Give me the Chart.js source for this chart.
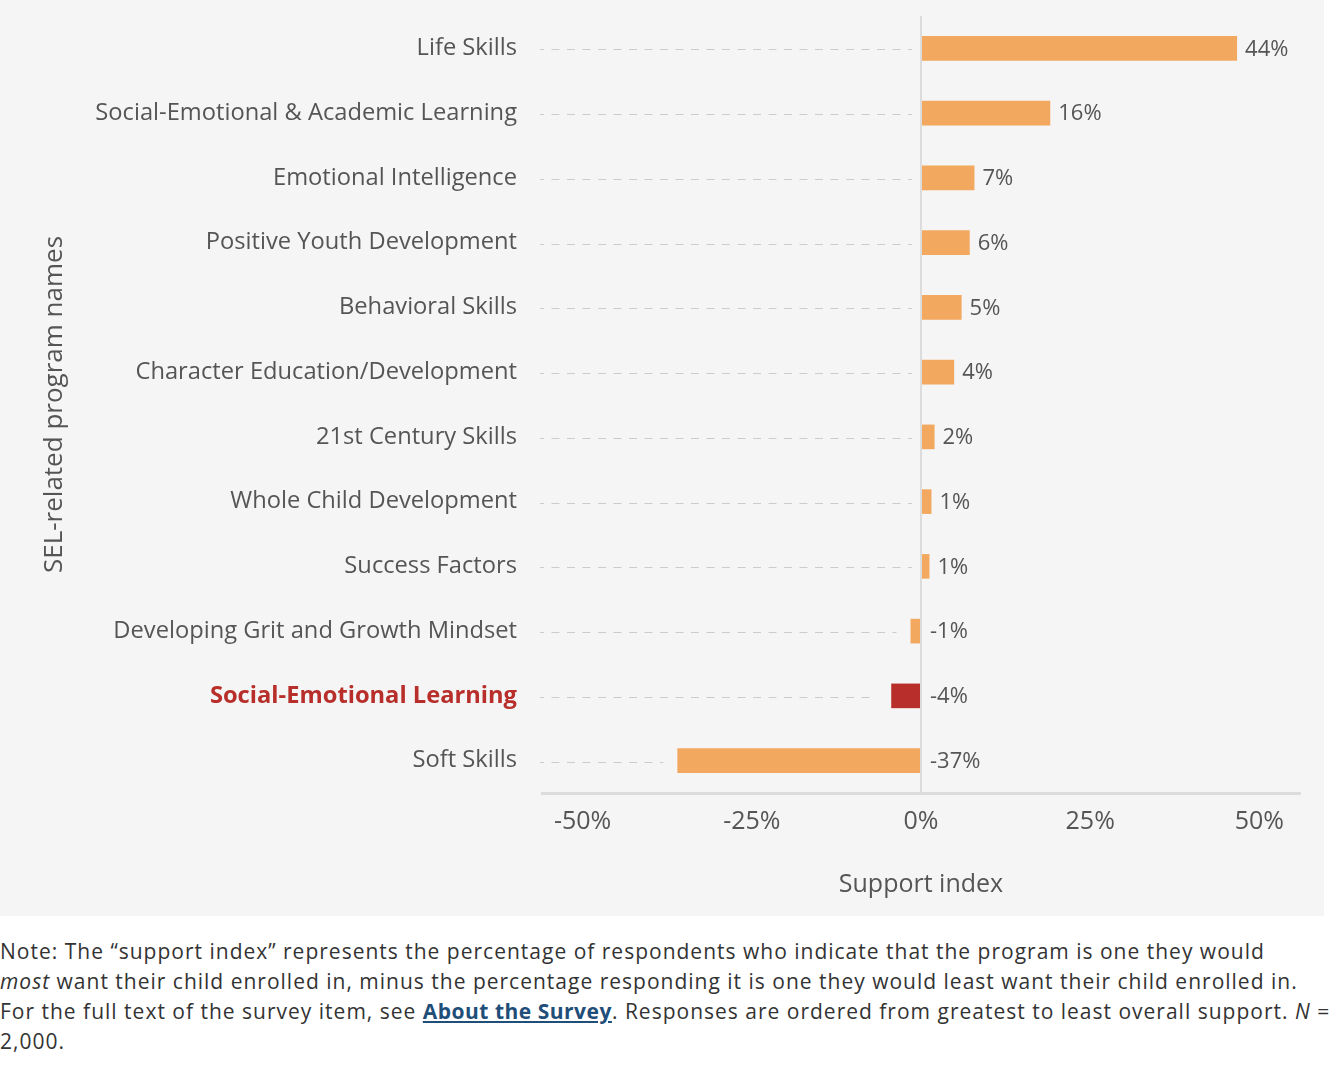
<!DOCTYPE html>
<html><head><meta charset="utf-8">
<script src="https://cdn.jsdelivr.net/npm/chart.js@4.4.1/dist/chart.umd.min.js"></script>
<style>
html,body{margin:0;padding:0;background:#fff;}
#wrap{position:absolute;left:0;top:0;width:1324px;height:916px;background:#f5f5f5;}
#note{position:absolute;left:0;top:936px;width:1332px;font-family:'Open Sans',sans-serif;font-size:21px;letter-spacing:1px;line-height:30px;color:#333;white-space:nowrap;}
#note a{color:#1f4e79;font-weight:bold;text-decoration:underline;letter-spacing:0.5px;}
</style></head><body>
<div id="wrap"><canvas id="c" width="1324" height="916"></canvas></div>
<div id="note">Note: The “support index” represents the percentage of respondents who indicate that the program is one they would<br><i>most</i> want their child enrolled in, minus the percentage responding it is one they would least want their child enrolled in.<br>For the full text of the survey item, see <a>About the Survey</a>. Responses are ordered from greatest to least overall support. <i>N</i> =<br>2,000.</div>
<script>
const categories = ['Life Skills','Social-Emotional & Academic Learning','Emotional Intelligence','Positive Youth Development','Behavioral Skills','Character Education/Development','21st Century Skills','Whole Child Development','Success Factors','Developing Grit and Growth Mindset','Social-Emotional Learning','Soft Skills'];
const values = [46.7, 19.1, 7.9, 7.2, 6.0, 4.9, 2.0, 1.55, 1.25, -1.55, -4.4, -36.0];
const valueLabels = ['44%','16%','7%','6%','5%','4%','2%','1%','1%','-1%','-4%','-37%'];
const highlightCategory = 'Social-Emotional Learning';
const xTickValues = [-50, -25, 0, 25, 50];

const FONT = "'Open Sans', sans-serif";
const ORANGE = '#f2a95f', RED = '#b82e2a', GREY = '#555555';

const dashPlugin = {
  id: 'dashes',
  beforeDatasetsDraw(chart) {
    const ctx = chart.ctx, meta = chart.getDatasetMeta(0), left = chart.chartArea.left - 2;
    ctx.save();
    ctx.strokeStyle = '#cccccc'; ctx.lineWidth = 1;
    ctx.setLineDash([8, 7.5]); ctx.lineDashOffset = 4;
    meta.data.forEach(el => {
      const end = el.x >= el.base ? el.base - 10 : el.x - 14;
      const y = Math.round(el.y) + 1.5;
      ctx.beginPath(); ctx.moveTo(left, y); ctx.lineTo(end, y); ctx.stroke();
    });
    ctx.restore();
  }
};
const valuePlugin = {
  id: 'values',
  afterDatasetsDraw(chart) {
    const ctx = chart.ctx, meta = chart.getDatasetMeta(0);
    ctx.save();
    ctx.font = '22px ' + FONT; ctx.fillStyle = GREY;
    ctx.textAlign = 'left'; ctx.textBaseline = 'middle';
    meta.data.forEach((el, i) => {
      const x = el.x >= el.base ? el.x + 8 : el.base + 10;
      ctx.fillText(valueLabels[i], x, el.y + 1);
    });
    ctx.restore();
  }
};

new Chart(document.getElementById('c'), {
  type: 'bar',
  data: {
    labels: categories,
    datasets: [{
      data: values,
      backgroundColor: categories.map(c => c === highlightCategory ? RED : ORANGE),
      barPercentage: 0.38,
      categoryPercentage: 1
    }]
  },
  options: {
    indexAxis: 'y',
    responsive: false,
    animation: false,
    layout: { padding: { left: 30, right: 24, top: 16, bottom: 0 } },
    plugins: { legend: { display: false }, tooltip: { enabled: false } },
    scales: {
      x: {
        min: -56, max: 56,
        afterBuildTicks: s => { s.ticks = xTickValues.map(v => ({ value: v })); },
        afterFit: s => { s.height = 123; s.paddingLeft = 0; s.paddingRight = 0; },
        ticks: { callback: v => v + '%', color: GREY, font: { family: FONT, size: 25 }, padding: 14, maxRotation: 0 },
        grid: { drawTicks: false, lineWidth: 2, color: c => (c.tick && c.tick.value === 0) ? '#dcdcdc' : 'rgba(0,0,0,0)' },
        border: { display: true, color: '#dcdcdc', width: 3 },
        title: { display: true, text: 'Support index', color: GREY, font: { family: FONT, size: 25 }, padding: { top: 0, bottom: 16 } }
      },
      y: {
        afterFit: s => { s.width = 512; s.paddingTop = 0; s.paddingBottom = 0; },
        grid: { display: false, drawTicks: false },
        border: { display: false },
        ticks: {
          padding: 25,
          color: c => categories[c.index] === highlightCategory ? RED : GREY,
          font: c => ({ family: FONT, size: 23.7, lineHeight: 1.05, weight: categories[c.index] === highlightCategory ? 'bold' : 'normal' })
        },
        title: { display: true, text: 'SEL-related program names', color: GREY, font: { family: FONT, size: 26 }, padding: { top: 9, bottom: 0 } }
      }
    }
  },
  plugins: [dashPlugin, valuePlugin]
});
</script>
</body></html>
